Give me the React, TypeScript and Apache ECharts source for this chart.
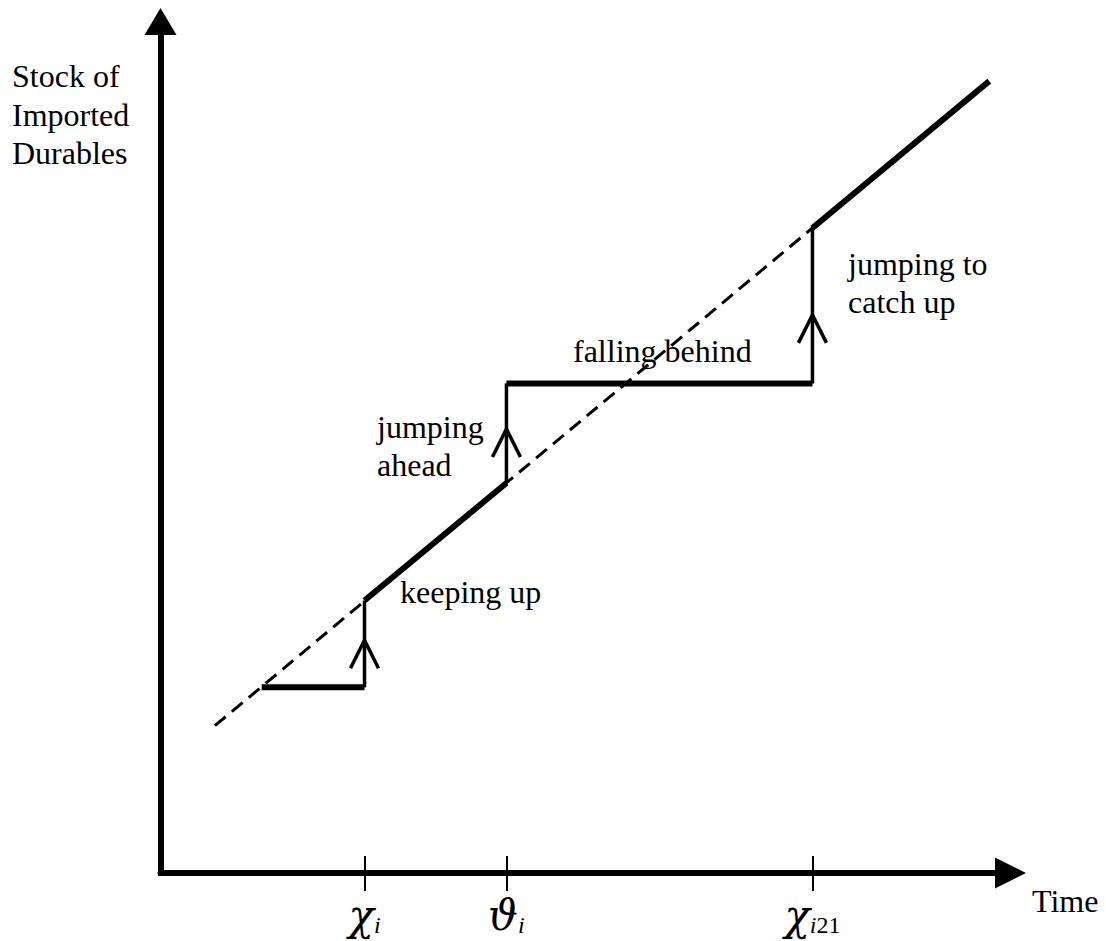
import React, { useEffect, useRef } from "react";
import * as echarts from "echarts";

// ---- data (chart units: time 0..100, stock 0..100) ----
const X_RANGE = [0, 100];
const Y_RANGE = [0, 100];

const tickValues = [24, 40.7, 76.7];
const tickLabels = ["{g|χ}{s|i}", "{g|ϑ}{s|i}", "{g|χ}{s|i}{n|21}"];

// dashed trend line of the stock
const trendLine = [
  [6.4, 17.3],
  [76.7, 75.75],
];

// actual stock path: thick pieces
const stockFlat1 = [
  [11.9, 21.8],
  [24, 21.8],
];
const stockKeepUp = [
  [24, 32],
  [40.7, 45.8],
];
const stockFlat2 = [
  [40.7, 57.5],
  [76.7, 57.5],
];
const stockCatchUp = [
  [76.7, 75.75],
  [97.5, 93],
];

// jumps (thin verticals)
const jump1 = [
  [24, 21.8],
  [24, 32],
];
const jump2 = [
  [40.7, 45.8],
  [40.7, 57.5],
];
const jump3 = [
  [76.7, 57.5],
  [76.7, 75.75],
];

// chevron arrows on the jumps
const jumpArrows = [
  [24, 25.7],
  [40.7, 50.5],
  [76.7, 63.9],
];

const yTitle = "Stock of\nImported\nDurables";
const xTitle = "Time";
const notes = [
  { text: "keeping up", x: 400, y: 573 },
  { text: "jumping\nahead", x: 377, y: 408 },
  { text: "falling behind", x: 573, y: 332 },
  { text: "jumping to\ncatch up", x: 848, y: 245 },
];

const FONT = '"Liberation Serif", "Times New Roman", "DejaVu Serif", serif';
const GREEK = '"DejaVu Serif", "Liberation Serif", serif';

export default function App() {
  const ref = useRef<HTMLDivElement>(null);

  useEffect(() => {
    if (!ref.current) return;
    const chart = echarts.init(ref.current, undefined, { renderer: "svg" });

    const labelFor = (v: number) => {
      let best = 0;
      let d = Infinity;
      tickValues.forEach((t, i) => {
        if (Math.abs(t - v) < d) {
          d = Math.abs(t - v);
          best = i;
        }
      });
      return d < 0.5 ? tickLabels[best] : "";
    };

    const thick = (data: number[][]) => ({
      type: "line",
      data,
      symbol: "none",
      silent: true,
      z: 3,
      lineStyle: { color: "#000", width: 6, cap: "butt", opacity: 1 },
    });
    const thin = (data: number[][]) => ({
      type: "line",
      data,
      symbol: "none",
      silent: true,
      z: 3,
      lineStyle: { color: "#000", width: 3.5, opacity: 1 },
    });

    const option: any = {
      animation: false,
      backgroundColor: "#fff",
      grid: {
        left: 160.5,
        right: 95.5,
        top: 21.5,
        bottom: 68,
        containLabel: false,
        outerBoundsMode: "none",
      },
      xAxis: [
        {
          type: "value",
          min: X_RANGE[0],
          max: X_RANGE[1],
          position: "bottom",
          axisLine: {
            show: true,
            onZero: false,
            symbol: ["none", "triangle"],
            symbolSize: [31, 31],
            lineStyle: { color: "#000", width: 6 },
          },
          axisTick: {
            show: true,
            customValues: tickValues,
            inside: false,
            length: 18,
            lineStyle: { color: "#000", width: 2 },
          },
          axisLabel: {
            show: true,
            customValues: tickValues,
            margin: 20,
            color: "#000",
            formatter: (v: number) => labelFor(v),
            rich: {
              g: {
                fontFamily: GREEK,
                fontSize: 42,
                fontStyle: "italic",
                lineHeight: 44,
                color: "#000",
              },
              s: {
                fontFamily: FONT,
                fontSize: 24,
                fontStyle: "italic",
                lineHeight: 19,
                verticalAlign: "bottom",
                color: "#000",
              },
              n: {
                fontFamily: FONT,
                fontSize: 24,
                lineHeight: 19,
                verticalAlign: "bottom",
                color: "#000",
              },
            },
          },
          splitLine: { show: false },
        },
        {
          type: "value",
          min: X_RANGE[0],
          max: X_RANGE[1],
          position: "bottom",
          axisLine: { show: false, onZero: false },
          axisTick: {
            show: true,
            customValues: tickValues,
            inside: true,
            length: 17,
            lineStyle: { color: "#000", width: 2 },
          },
          axisLabel: { show: false },
          splitLine: { show: false },
        },
      ],
      yAxis: {
        type: "value",
        min: Y_RANGE[0],
        max: Y_RANGE[1],
        axisLine: {
          show: true,
          onZero: false,
          symbol: ["none", "triangle"],
          symbolSize: [32, 27],
          lineStyle: { color: "#000", width: 6, cap: "square" },
        },
        axisTick: { show: false },
        axisLabel: { show: false },
        splitLine: { show: false },
      },
      graphic: [
        {
          type: "text",
          x: 12,
          y: 57,
          silent: true,
          style: {
            text: yTitle,
            font: `32px ${FONT}`,
            lineHeight: 38.5,
            fill: "#000",
            verticalAlign: "top",
            align: "left",
          },
        },
        {
          type: "text",
          x: 1032,
          y: 885,
          silent: true,
          style: {
            text: xTitle,
            font: `32px ${FONT}`,
            lineHeight: 32,
            fill: "#000",
            verticalAlign: "top",
            align: "left",
          },
        },
        ...notes.map((n) => ({
          type: "text",
          x: n.x,
          y: n.y,
          silent: true,
          style: {
            text: n.text,
            font: `32px ${FONT}`,
            lineHeight: 38,
            fill: "#000",
            verticalAlign: "top",
            align: "left",
          },
        })),
      ],
      series: [
        {
          type: "line",
          data: trendLine,
          symbol: "none",
          silent: true,
          z: 2,
          lineStyle: { color: "#000", width: 3, type: [14, 8], opacity: 1 },
        },
        thick(stockFlat1),
        thick(stockKeepUp),
        thick(stockFlat2),
        thick(stockCatchUp),
        thin(jump1),
        thin(jump2),
        thin(jump3),
        {
          type: "scatter",
          data: jumpArrows,
          symbol: "path://M0,28L14,0L28,28",
          symbolSize: [28, 28],
          silent: true,
          z: 4,
          itemStyle: { color: "none", borderColor: "#000", borderWidth: 3.5, opacity: 1 },
        },
      ],
    };

    chart.setOption(option);
    return () => chart.dispose();
  }, []);

  return (
    <div
      ref={ref}
      style={{ position: "absolute", left: 0, top: 0, width: 1106, height: 941, background: "#fff" }}
    />
  );
}
